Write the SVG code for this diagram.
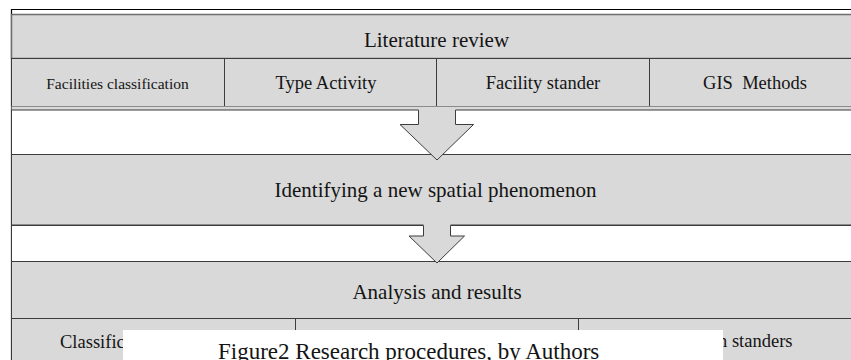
<svg xmlns="http://www.w3.org/2000/svg" width="851" height="360" viewBox="0 0 851 360">
<style>
.band{fill:#d9d9d9;stroke:#3c3c3c;stroke-width:1}
.gap{fill:#ffffff;stroke:#3c3c3c;stroke-width:1}
.div{stroke:#3c3c3c;stroke-width:1;fill:none}
.t{font-family:"Liberation Serif","Times New Roman",serif;fill:#141414}
.big{font-size:21px;text-anchor:middle}
.mid{font-size:18.5px;text-anchor:middle}
.sm{font-size:15.5px;text-anchor:middle}
.arrowfill{fill:#d9d9d9;stroke:none}
.arrowline{fill:none;stroke:#3c3c3c;stroke-width:1}
</style>
<rect x="0" y="0" width="851" height="360" fill="#ffffff"/>
<g id="frame">
<line x1="11" y1="9.5" x2="851" y2="9.5" stroke="#000" stroke-width="1.2"/>
<line x1="11.5" y1="9" x2="11.5" y2="360" stroke="#000" stroke-width="1.2"/>
</g>
<g id="literature">
<rect class="band" x="11.5" y="14.5" width="850" height="44" style="stroke:#6e6e6e;stroke-width:1.5"/>
<line class="div" x1="11.5" y1="58.5" x2="851" y2="58.5"/>
<text class="t big" x="436.5" y="47">Literature review</text>
</g>
<g id="lit-sub">
<rect class="band" x="11.5" y="58.5" width="850" height="48"/>
<line class="div" x1="224.5" y1="58.5" x2="224.5" y2="106.5"/>
<line class="div" x1="436.5" y1="58.5" x2="436.5" y2="106.5"/>
<line class="div" x1="649.5" y1="58.5" x2="649.5" y2="106.5"/>
<text class="t sm" x="117.5" y="88.5">Facilities classification</text>
<text class="t mid" x="326" y="89">Type Activity</text>
<text class="t mid" x="543" y="89">Facility stander</text>
<text class="t mid" x="755" y="89" xml:space="preserve">GIS  Methods</text>
</g>
<g id="gap1">
<rect x="11.5" y="106.5" width="850" height="48" fill="#d9d9d9"/>
<rect class="gap" x="11.5" y="110" width="850" height="44.5"/>
</g>
<g id="identifying">
<rect class="band" x="11.5" y="154.5" width="850" height="70.5"/>
<text class="t big" x="435.5" y="197">Identifying a new spatial phenomenon</text>
</g>
<g id="gap2">
<rect class="gap" x="11.5" y="225.5" width="850" height="36"/>
</g>
<g id="analysis">
<rect class="band" x="11.5" y="261.5" width="850" height="57"/>
<text class="t big" x="437" y="298.5">Analysis and results</text>
</g>
<g id="analysis-sub">
<rect class="band" x="11.5" y="318.5" width="850" height="50"/>
<line class="div" x1="295.5" y1="318.5" x2="295.5" y2="360"/>
<line class="div" x1="578.5" y1="318.5" x2="578.5" y2="360"/>
<text class="t" x="60" y="348" font-size="18.5">Classific</text>
<text class="t" x="718" y="347" font-size="18.5">n standers</text>
</g>
<g id="connectors">
<polygon class="arrowfill" points="418.5,107.2 418.5,124.5 400,124.5 437,160 473.5,124.5 455.5,124.5 455.5,107.2"/>
<polyline class="arrowline" points="418.5,110 418.5,124.5 400,124.5 437,160 473.5,124.5 455.5,124.5 455.5,110"/>
<polygon class="arrowfill" points="423.5,224 423.5,236 409,236 437,263 464.5,236 450.5,236 450.5,224"/>
<polyline class="arrowline" points="423.5,225.5 423.5,236 409,236 437,263 464.5,236 450.5,236 450.5,225.5"/>
</g>
<g id="caption">
<rect x="123" y="330" width="600" height="40" fill="#ffffff"/>
<text class="t" x="218" y="358.5" font-size="23">Figure2 Research procedures, by Authors</text>
</g>
</svg>
